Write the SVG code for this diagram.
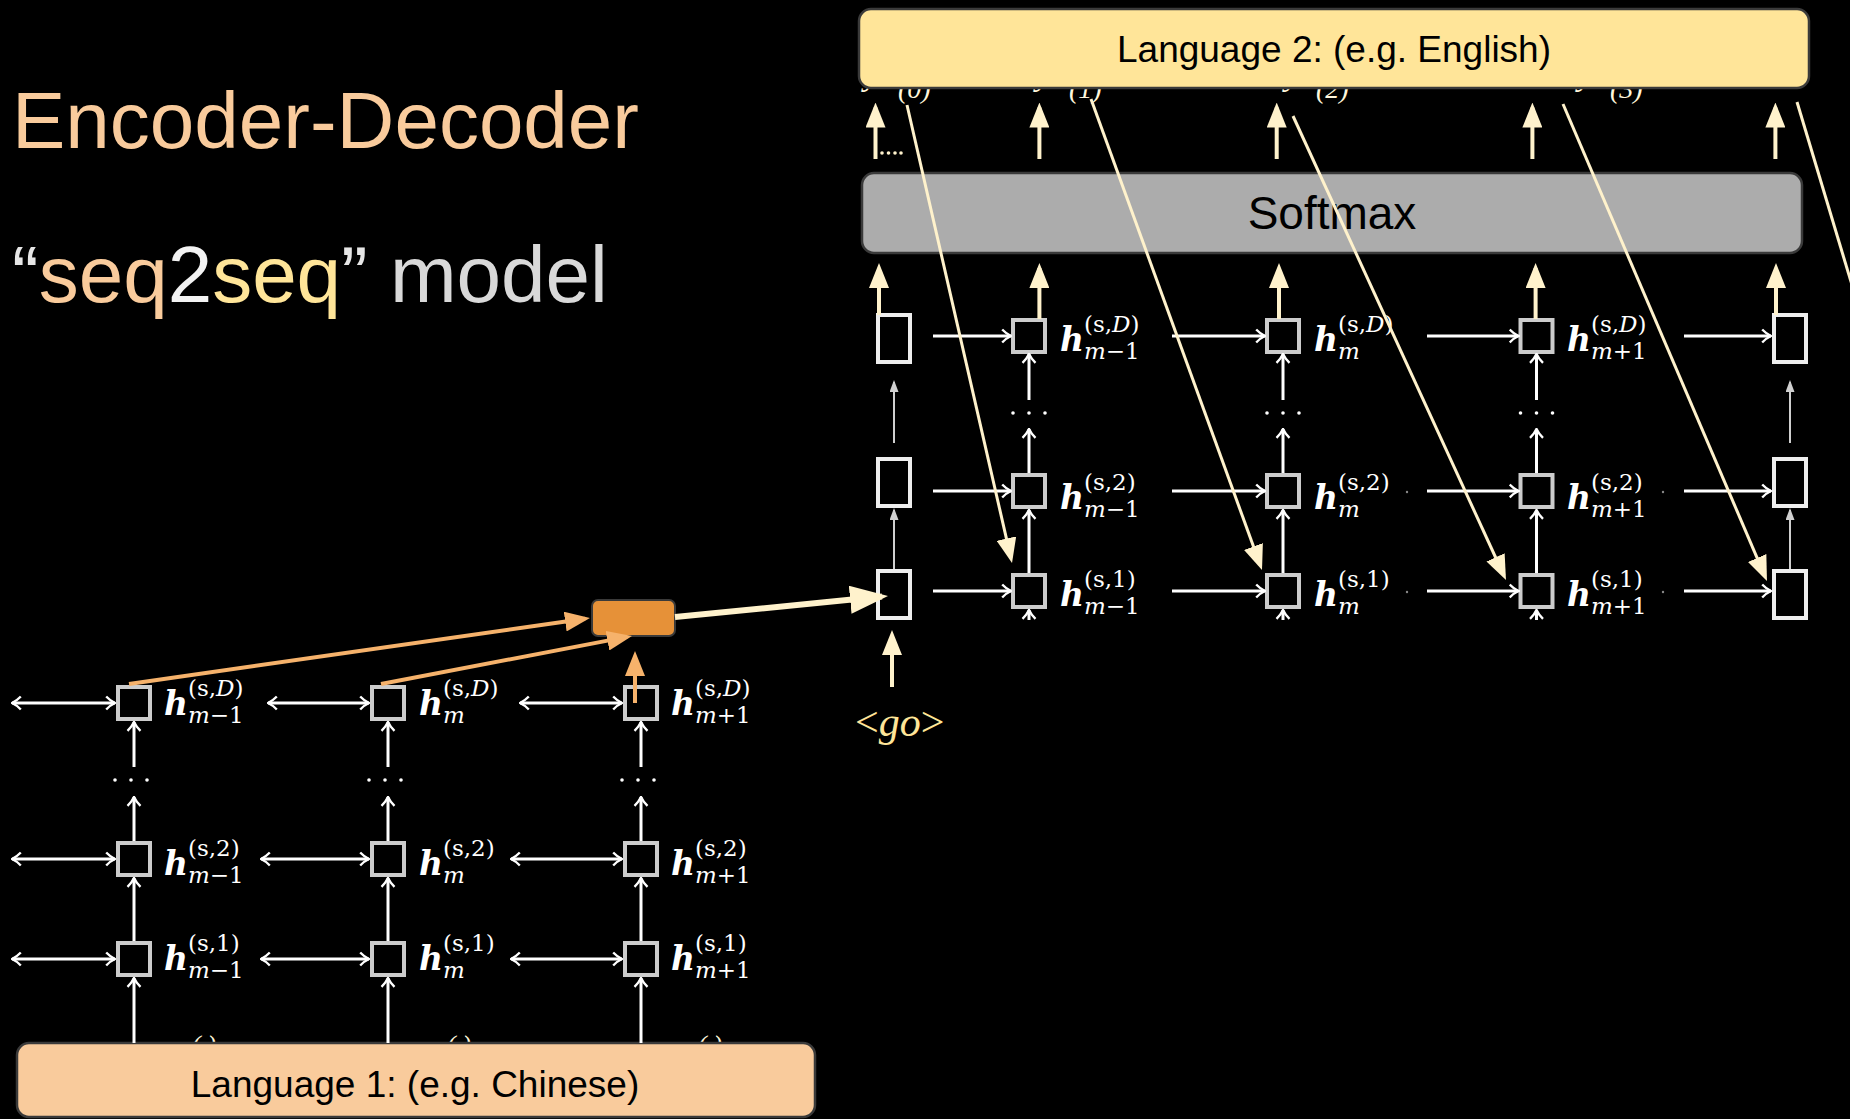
<svg xmlns="http://www.w3.org/2000/svg" width="1850" height="1119" viewBox="0 0 1850 1119">
<defs>
<style>
.title{font-family:"Liberation Sans",Arial,sans-serif;font-size:80px}
.blabel{font-family:"Liberation Sans",Arial,sans-serif;fill:#000;text-anchor:middle}
.cell{fill:#000;stroke:#cccccc;stroke-width:4}
.side{fill:#000;stroke:#eeeeee;stroke-width:4}
.mh{font-family:"DejaVu Serif",serif;font-style:italic;font-weight:bold;font-size:33px;fill:#fff}
.ms{font-family:"DejaVu Serif",serif;font-size:23px;fill:#fff}
.it{font-style:italic}
.w{stroke:#fff;stroke-width:3;fill:none}
.wa{marker-end:url(#open)}
.wb{marker-start:url(#open);marker-end:url(#open)}
.cr{stroke:#fff2cc;stroke-width:4;fill:none;marker-end:url(#hd-cream)}
.dg{stroke:#fff2cc;stroke-width:3;fill:none}
.or{stroke:#f6b26b;stroke-width:4;fill:none;marker-end:url(#hd-orange)}
.gr{stroke:#cfcfcf;stroke-width:2;fill:none;marker-end:url(#hd-grey)}
.frag{font-family:"Liberation Serif",serif;font-style:italic;fill:#fff6dc}
.dot{fill:#fff}
</style>
<marker id="open" viewBox="0 0 11 16" markerWidth="11" markerHeight="16" refX="10" refY="8" markerUnits="userSpaceOnUse" orient="auto-start-reverse"><path d="M1.2,1.5 Q5.5,6 10,8 Q5.5,10 1.2,14.5" fill="none" stroke="#fff" stroke-width="2.4"/></marker>
<marker id="hd-cream" viewBox="0 0 25 20" markerWidth="25" markerHeight="20" refX="20" refY="10" markerUnits="userSpaceOnUse" orient="auto"><path d="M0,0 L25,10 L0,20 Z" fill="#fff2cc"/></marker>
<marker id="hd-orange" viewBox="0 0 25 20" markerWidth="25" markerHeight="20" refX="20" refY="10" markerUnits="userSpaceOnUse" orient="auto"><path d="M0,0 L25,10 L0,20 Z" fill="#f6b26b"/></marker>
<marker id="hd-big" viewBox="0 0 38 28" markerWidth="38" markerHeight="28" refX="32" refY="14" markerUnits="userSpaceOnUse" orient="auto"><path d="M0,0 L38,14 L0,28 Z" fill="#fff2cc"/></marker>
<marker id="hd-grey" viewBox="0 0 12 9" markerWidth="12" markerHeight="9" refX="10" refY="4.5" markerUnits="userSpaceOnUse" orient="auto"><path d="M0,0 L12,4.5 L0,9 Z" fill="#d0d0d0"/></marker>
</defs>

<rect width="1850" height="1119" fill="#000"/>

<!-- headings -->
<text class="title" x="12" y="148" fill="#f9cb9c">Encoder-Decoder</text>
<text class="title" x="12" y="302"><tspan fill="#e6e6e6">“</tspan><tspan fill="#f9cb9c">seq</tspan><tspan fill="#f3f3f3">2</tspan><tspan fill="#ffe599">seq</tspan><tspan fill="#e6e6e6">”</tspan><tspan fill="#d9d9d9"> model</tspan></text>

<!-- output / input token labels tucked under the language bars -->
<g id="output-tokens">
  <text class="frag" x="864" y="85" font-size="34">y</text><text class="frag" x="898" y="98" font-size="28">(0)</text>
  <text class="frag" x="1036" y="85" font-size="34">y</text><text class="frag" x="1069" y="98" font-size="28">(1)</text>
  <text class="frag" x="1285" y="85" font-size="34">y</text><text class="frag" x="1316" y="98" font-size="28">(2)</text>
  <text class="frag" x="1578" y="85" font-size="34">y</text><text class="frag" x="1610" y="98" font-size="28">(3)</text>
</g>
<g id="input-tokens">
  <text class="frag" x="192" y="1053" font-size="26">( )</text>
  <text class="frag" x="447" y="1053" font-size="26">( )</text>
  <text class="frag" x="698" y="1053" font-size="26">( )</text>
</g>

<!-- bars -->
<g id="lang2"><rect x="859" y="9" width="950" height="79" rx="12" fill="#ffe599" stroke="#3a3a3a" stroke-width="2.5"/><text class="blabel" x="1334" y="62" font-size="37">Language 2: (e.g. English)</text></g>
<g id="softmax"><rect x="862" y="173" width="940" height="80" rx="12" fill="#acacac" stroke="#3a3a3a" stroke-width="2.5"/><text class="blabel" x="1332" y="229" font-size="46">Softmax</text></g>
<g id="lang1"><rect x="17" y="1043" width="798" height="74" rx="12" fill="#f9cb9c" stroke="#3a3a3a" stroke-width="2.5"/><text class="blabel" x="415" y="1097" font-size="37">Language 1: (e.g. Chinese)</text></g>
<g id="context"><rect x="592" y="600" width="83" height="36" rx="6" fill="#e69138" stroke="#3a3a3a" stroke-width="2"/></g>
<g id="go"><text x="855" y="736" font-family="Liberation Serif, serif" font-size="42" fill="#ffe599">&lt;<tspan font-style="italic">go</tspan>&gt;</text></g>

<!-- encoder cells -->
<g id="enc-1-D"><rect class="cell" x="118" y="687" width="32" height="32"/><g transform="translate(164,715)"><text class="mh">h</text><text class="ms" x="24" y="-19">(s,<tspan class="it">D</tspan>)</text><text class="ms" x="24" y="8"><tspan class="it">m</tspan>−1</text></g></g>
<g id="enc-2-D"><rect class="cell" x="372" y="687" width="32" height="32"/><g transform="translate(419,715)"><text class="mh">h</text><text class="ms" x="24" y="-19">(s,<tspan class="it">D</tspan>)</text><text class="ms" x="24" y="8"><tspan class="it">m</tspan></text></g></g>
<g id="enc-3-D"><rect class="cell" x="625" y="687" width="32" height="32"/><g transform="translate(671,715)"><text class="mh">h</text><text class="ms" x="24" y="-19">(s,<tspan class="it">D</tspan>)</text><text class="ms" x="24" y="8"><tspan class="it">m</tspan>+1</text></g></g>
<g id="enc-1-2"><rect class="cell" x="118" y="843" width="32" height="32"/><g transform="translate(164,875)"><text class="mh">h</text><text class="ms" x="24" y="-19">(s,2)</text><text class="ms" x="24" y="8"><tspan class="it">m</tspan>−1</text></g></g>
<g id="enc-2-2"><rect class="cell" x="372" y="843" width="32" height="32"/><g transform="translate(419,875)"><text class="mh">h</text><text class="ms" x="24" y="-19">(s,2)</text><text class="ms" x="24" y="8"><tspan class="it">m</tspan></text></g></g>
<g id="enc-3-2"><rect class="cell" x="625" y="843" width="32" height="32"/><g transform="translate(671,875)"><text class="mh">h</text><text class="ms" x="24" y="-19">(s,2)</text><text class="ms" x="24" y="8"><tspan class="it">m</tspan>+1</text></g></g>
<g id="enc-1-1"><rect class="cell" x="118" y="943" width="32" height="32"/><g transform="translate(164,970)"><text class="mh">h</text><text class="ms" x="24" y="-19">(s,1)</text><text class="ms" x="24" y="8"><tspan class="it">m</tspan>−1</text></g></g>
<g id="enc-2-1"><rect class="cell" x="372" y="943" width="32" height="32"/><g transform="translate(419,970)"><text class="mh">h</text><text class="ms" x="24" y="-19">(s,1)</text><text class="ms" x="24" y="8"><tspan class="it">m</tspan></text></g></g>
<g id="enc-3-1"><rect class="cell" x="625" y="943" width="32" height="32"/><g transform="translate(671,970)"><text class="mh">h</text><text class="ms" x="24" y="-19">(s,1)</text><text class="ms" x="24" y="8"><tspan class="it">m</tspan>+1</text></g></g>

<!-- decoder side cells -->
<g id="dec-first-D"><rect class="side" x="878" y="315" width="32" height="47"/></g>
<g id="dec-first-2"><rect class="side" x="878" y="459" width="32" height="47"/></g>
<g id="dec-first-1"><rect class="side" x="878" y="571" width="32" height="47"/></g>
<g id="dec-last-D"><rect class="side" x="1774" y="315" width="32" height="47"/></g>
<g id="dec-last-2"><rect class="side" x="1774" y="459" width="32" height="47"/></g>
<g id="dec-last-1"><rect class="side" x="1774" y="571" width="32" height="47"/></g>

<!-- decoder cells -->
<g id="dec-1-D"><rect class="cell" x="1013" y="320" width="32" height="32"/><g transform="translate(1060,351)"><text class="mh">h</text><text class="ms" x="24" y="-19">(s,<tspan class="it">D</tspan>)</text><text class="ms" x="24" y="8"><tspan class="it">m</tspan>−1</text></g></g>
<g id="dec-2-D"><rect class="cell" x="1267" y="320" width="32" height="32"/><g transform="translate(1314,351)"><text class="mh">h</text><text class="ms" x="24" y="-19">(s,<tspan class="it">D</tspan>)</text><text class="ms" x="24" y="8"><tspan class="it">m</tspan></text></g></g>
<g id="dec-3-D"><rect class="cell" x="1520.5" y="320" width="32" height="32"/><g transform="translate(1567,351)"><text class="mh">h</text><text class="ms" x="24" y="-19">(s,<tspan class="it">D</tspan>)</text><text class="ms" x="24" y="8"><tspan class="it">m</tspan>+1</text></g></g>
<g id="dec-1-2"><rect class="cell" x="1013" y="475" width="32" height="32"/><g transform="translate(1060,509)"><text class="mh">h</text><text class="ms" x="24" y="-19">(s,2)</text><text class="ms" x="24" y="8"><tspan class="it">m</tspan>−1</text></g></g>
<g id="dec-2-2"><rect class="cell" x="1267" y="475" width="32" height="32"/><g transform="translate(1314,509)"><text class="mh">h</text><text class="ms" x="24" y="-19">(s,2)</text><text class="ms" x="24" y="8"><tspan class="it">m</tspan></text></g></g>
<g id="dec-3-2"><rect class="cell" x="1520.5" y="475" width="32" height="32"/><g transform="translate(1567,509)"><text class="mh">h</text><text class="ms" x="24" y="-19">(s,2)</text><text class="ms" x="24" y="8"><tspan class="it">m</tspan>+1</text></g></g>
<g id="dec-1-1"><rect class="cell" x="1013" y="575" width="32" height="32"/><g transform="translate(1060,606)"><text class="mh">h</text><text class="ms" x="24" y="-19">(s,1)</text><text class="ms" x="24" y="8"><tspan class="it">m</tspan>−1</text></g></g>
<g id="dec-2-1"><rect class="cell" x="1267" y="575" width="32" height="32"/><g transform="translate(1314,606)"><text class="mh">h</text><text class="ms" x="24" y="-19">(s,1)</text><text class="ms" x="24" y="8"><tspan class="it">m</tspan></text></g></g>
<g id="dec-3-1"><rect class="cell" x="1520.5" y="575" width="32" height="32"/><g transform="translate(1567,606)"><text class="mh">h</text><text class="ms" x="24" y="-19">(s,1)</text><text class="ms" x="24" y="8"><tspan class="it">m</tspan>+1</text></g></g>

<!-- elided layers -->
<g id="ellipses">
  <circle class="dot" cx="115" cy="780" r="1.8"/><circle class="dot" cx="131" cy="780" r="1.8"/><circle class="dot" cx="147" cy="780" r="1.8"/>
  <circle class="dot" cx="369" cy="780" r="1.8"/><circle class="dot" cx="385" cy="780" r="1.8"/><circle class="dot" cx="401" cy="780" r="1.8"/>
  <circle class="dot" cx="622" cy="780" r="1.8"/><circle class="dot" cx="638" cy="780" r="1.8"/><circle class="dot" cx="654" cy="780" r="1.8"/>
  <circle class="dot" cx="1013" cy="413" r="1.8"/><circle class="dot" cx="1029" cy="413" r="1.8"/><circle class="dot" cx="1045" cy="413" r="1.8"/>
  <circle class="dot" cx="1267" cy="413" r="1.8"/><circle class="dot" cx="1283" cy="413" r="1.8"/><circle class="dot" cx="1299" cy="413" r="1.8"/>
  <circle class="dot" cx="1520.5" cy="413" r="1.8"/><circle class="dot" cx="1536.5" cy="413" r="1.8"/><circle class="dot" cx="1552.5" cy="413" r="1.8"/>
  <circle cx="882" cy="153" r="1.8" fill="#fff2cc"/><circle cx="888.5" cy="153" r="1.8" fill="#fff2cc"/><circle cx="895" cy="153" r="1.8" fill="#fff2cc"/><circle cx="901" cy="153" r="1.8" fill="#fff2cc"/>
  <circle cx="1407" cy="492" r="1.2" fill="#888"/><circle cx="1407" cy="592" r="1.2" fill="#888"/><circle cx="1663" cy="492" r="1.2" fill="#888"/><circle cx="1663" cy="592" r="1.2" fill="#888"/>
</g>

<g id="connectors">
  <!-- encoder: bidirectional recurrences -->
  <path class="w wb" d="M12,703H115"/><path class="w wb" d="M268,703H369"/><path class="w wb" d="M520,703H622"/>
  <path class="w wb" d="M12,859H115"/><path class="w wb" d="M261,859H369"/><path class="w wb" d="M511,859H622"/>
  <path class="w wb" d="M12,959H115"/><path class="w wb" d="M261,959H369"/><path class="w wb" d="M511,959H622"/>
  <!-- encoder: layer stacking -->
  <path class="w wa" d="M134,1043V978"/><path class="w wa" d="M134,941V878"/><path class="w wa" d="M134,841V797"/><path class="w wa" d="M134,767V722"/>
  <path class="w wa" d="M388,1043V978"/><path class="w wa" d="M388,941V878"/><path class="w wa" d="M388,841V797"/><path class="w wa" d="M388,767V722"/>
  <path class="w wa" d="M641,1043V978"/><path class="w wa" d="M641,941V878"/><path class="w wa" d="M641,841V797"/><path class="w wa" d="M641,767V722"/>
  <!-- decoder: forward recurrences -->
  <path class="w wa" d="M933,336H1011"/><path class="w wa" d="M1172,336H1265"/><path class="w wa" d="M1427,336H1518.5"/><path class="w wa" d="M1684,336H1771"/>
  <path class="w wa" d="M933,491H1011"/><path class="w wa" d="M1172,491H1265"/><path class="w wa" d="M1427,491H1518.5"/><path class="w wa" d="M1684,491H1771"/>
  <path class="w wa" d="M933,591H1011"/><path class="w wa" d="M1172,591H1265"/><path class="w wa" d="M1427,591H1518.5"/><path class="w wa" d="M1684,591H1771"/>
  <!-- decoder: layer stacking -->
  <path class="w wa" d="M1029,620V610"/><path class="w wa" d="M1029,573V510"/><path class="w wa" d="M1029,473V429"/><path class="w wa" d="M1029,400V354"/>
  <path class="w wa" d="M1283,620V610"/><path class="w wa" d="M1283,573V510"/><path class="w wa" d="M1283,473V429"/><path class="w wa" d="M1283,400V354"/>
  <path class="w wa" d="M1536.5,620V610"/><path class="w wa" d="M1536.5,573V510"/><path class="w wa" d="M1536.5,473V429"/><path class="w wa" d="M1536.5,400V354"/>
  <path class="gr" d="M894,569V510"/><path class="gr" d="M894,443V382"/>
  <path class="gr" d="M1790,569V510"/><path class="gr" d="M1790,443V382"/>
  <!-- into and out of softmax -->
  <path class="cr" d="M879,315V268"/><path class="cr" d="M1039.4,319V268"/><path class="cr" d="M1279,319V268"/><path class="cr" d="M1535.6,319V268"/><path class="cr" d="M1776,315V268"/>
  <path class="cr" d="M875.5,159V107.5"/><path class="cr" d="M1039.4,159V107.5"/><path class="cr" d="M1276.7,159V107.5"/><path class="cr" d="M1532.4,159V107.5"/><path class="cr" d="M1775.4,159V107.5"/>
  <!-- previous output fed back as next input -->
  <path class="dg" d="M907,105L1010.9,558.1" marker-end="url(#hd-cream)"/>
  <path class="dg" d="M1091,99L1260.3,565.3" marker-end="url(#hd-cream)"/>
  <path class="dg" d="M1293,116L1503.9,575.5" marker-end="url(#hd-cream)"/>
  <path class="dg" d="M1563,104L1765,576.4" marker-end="url(#hd-cream)"/>
  <path class="dg" d="M1797,102L1858,305"/>
  <!-- encoder top layer to context -->
  <path class="or" d="M129,684L585,618.7"/>
  <path class="or" d="M381,684L627.1,636.9"/>
  <path class="or" d="M635,703V656"/>
  <!-- context to decoder -->
  <path d="M675,617L882,596.6" stroke="#fff2cc" stroke-width="6" fill="none" marker-end="url(#hd-big)"/>
  <path class="cr" d="M892,687V635"/>
</g>
</svg>
